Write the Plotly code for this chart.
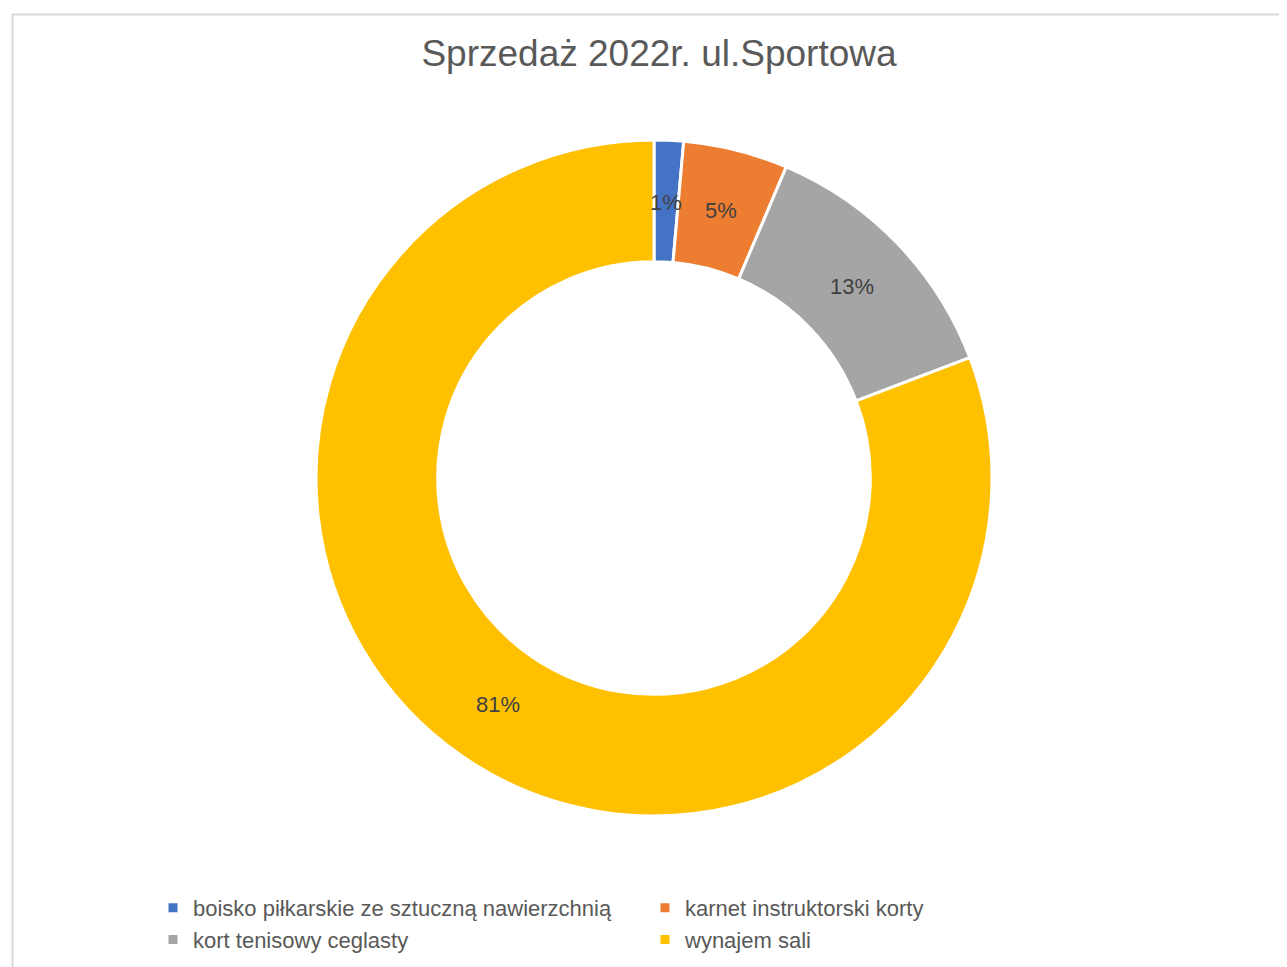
import math
import plotly.graph_objects as go

categories = ["boisko piłkarskie ze sztuczną nawierzchnią", "karnet instruktorski korty",
              "kort tenisowy ceglasty", "wynajem sali"]
values = [1.4, 5.0, 12.8, 80.8]
colors = ["#4472C4", "#ED7D31", "#A5A5A5", "#FFC000"]
title_text = "Sprzedaż 2022r. ul.Sportowa"

W, H = 1287, 967
OFF = 8  # page body margin
cx, cy, r = 654 - OFF, 478 - OFF, 338
HOLE = 0.64

fig = go.Figure(go.Pie(
    labels=categories, values=values, sort=False, direction="clockwise", rotation=0,
    hole=HOLE,
    marker=dict(colors=colors, line=dict(color="white", width=3)),
    textinfo="none",
    hoverinfo="label+percent",
    domain=dict(x=[(cx - r) / W, (cx + r) / W], y=[(H - cy - r) / H, (H - cy + r) / H]),
))

# data labels at the middle of the ring, derived from the values
total = sum(values)
rm = (r - 2) * (1 + HOLE) / 2
annotations = []
cum = 0.0
for v in values:
    a = 2 * math.pi * (cum + v / 2) / total
    cum += v
    px = cx + rm * math.sin(a)
    py = cy - rm * math.cos(a)
    annotations.append(dict(
        x=px / W, y=1 - py / H, xref="paper", yref="paper", showarrow=False,
        text=f"{round(100 * v / total):.0f}%", xanchor="center", yanchor="middle",
        font=dict(family="Liberation Sans, Arial", size=22, color="#404040")))

fig.update_layout(
    width=W, height=H, margin=dict(l=0, r=0, t=0, b=0),
    paper_bgcolor="white",
    title=dict(text=title_text, x=(659 - OFF) / W, xanchor="center", y=1 - (53 - OFF) / H,
               yanchor="middle",
               font=dict(family="Liberation Sans, Arial", size=37, color="#595959")),
    legend=dict(orientation="h", x=145 / W, xanchor="left", y=1 - 879 / H, yanchor="top",
                entrywidth=447, entrywidthmode="pixels",
                font=dict(family="Liberation Sans, Arial", size=22, color="#595959"),
                traceorder="normal"),
    annotations=annotations,
    shapes=[dict(type="rect", xref="paper", yref="paper", x0=(12.5 - OFF) / W, x1=1.05, y0=-0.05,
                 y1=1 - (14.5 - OFF) / H, line=dict(color="#D9D9D9", width=2),
                 fillcolor="rgba(0,0,0,0)")],
)

fig.write_html("out.html")
